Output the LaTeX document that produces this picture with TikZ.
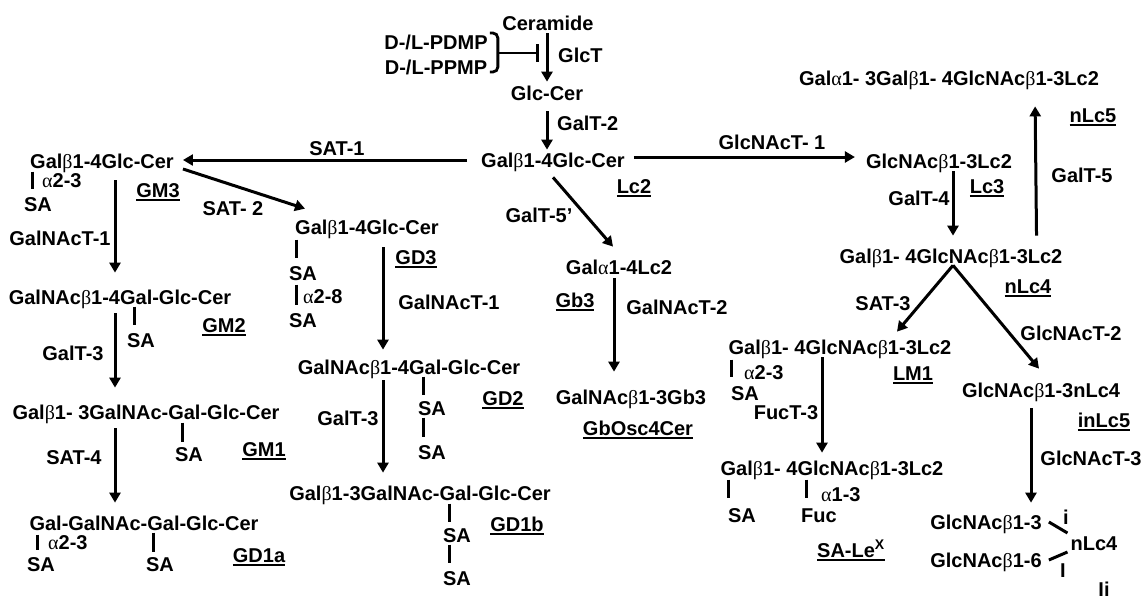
\documentclass[tikz,border=0pt]{standalone}
\usepackage{fontspec}
\setmainfont{Liberation Sans}
\newfontfamily\grk{Liberation Serif}
\usetikzlibrary{arrows.meta,calc}
\newcommand\bet{{\grk\mdseries β}}
\newcommand\alp{{\grk\mdseries α}}
\newcommand\myul[1]{\setbox0\hbox{#1}\rlap{\rule[-3.5pt]{\wd0}{1.6pt}}\box0}
\begin{document}
\begin{tikzpicture}[x=1pt,y=-1pt,
  t/.style={inner sep=0pt,text height=14.3pt,text depth=0pt,font=\fontsize{20}{24}\selectfont\bfseries},
  arr/.style={line width=3pt,-{Triangle[length=10pt,width=11pt]}},
  bond/.style={line width=3pt}]
\useasboundingbox (0,0) rectangle (1143,600);
% top
\node[t] (cer) at (548,23) {Ceramide};
\node[t] (pdmp) at (436,42) {D-/L-PDMP};
\node[t] (ppmp) at (436,67) {D-/L-PPMP};
\node[t,anchor=west] (glct) at (558,55) {GlcT};
\node[t] (glc) at (547,93) {Glc-Cer};
\node[t,anchor=west] (galt2) at (557,123) {GalT-2};
\node[t] (lc2) at (553,160) {Gal\bet1-4Glc-Cer};
\node[t] (lc2l) at (634,186) {\myul{Lc2}};
\draw[arr] ($(cer.south)+(-1,3)$) -- ($(glc.north)+(0,-4)$);
\draw[arr] ($(glc.south)+(0,11)$) -- ($(lc2.north)+(-6,-3)$);
\draw[line width=2.8pt,rounded corners=5pt] ($(pdmp.east)+(2,-9)$) coordinate (bt) -- ++(8,0) -- ++(0,39) -- ++(-8,0);
\coordinate (inh) at ($(glct.west)+(-19,-2)$);
\draw[line width=2.8pt,-{Bar[width=18pt]}] ($(bt)+(8,20)$) -- (inh);
% SAT-1 / GM3
\node[t] (sat1) at (337,148) {SAT-1};
\node[t] (gm3) at (102,161) {Gal\bet1-4Glc-Cer};
\node[t,anchor=west] (gm3a) at (42,180) {\alp2-3};
\node[t] (gm3sa) at (38,204) {SA};
\node[t] (gm3l) at (158,190) {\myul{GM3}};
\draw[arr] ($(lc2.west)+(-14,0)$) -- ($(gm3.east)+(9,-1)$);
\draw[bond] ($(gm3sa.north)+(-6,-25)$) -- ($(gm3sa.north)+(-6,-8)$);
\node[t] (sat2) at (233,208) {SAT- 2};
\node[t] (gnt1a) at (60,238) {GalNAcT-1};
% GD3
\node[t] (gd3) at (367,227) {Gal\bet1-4Glc-Cer};
\node[t] (gd3sa1) at (303,273) {SA};
\node[t,anchor=west] (gd3a) at (303,296) {\alp2-8};
\node[t] (gd3sa2) at (303,320) {SA};
\node[t] (gd3l) at (416,257) {\myul{GD3}};
\draw[arr] ($(gm3.east)+(9,8)$) -- ($(gd3.north west)+(10,-11)$);
\draw[bond] ($(gd3sa1.north)+(-7,-26)$) -- ($(gd3sa1.north)+(-7,-8)$);
\draw[bond] ($(gd3sa2.north)+(-7,-28)$) -- ($(gd3sa2.north)+(-7,-8)$);
\node[t] (gnt1b) at (449,302) {GalNAcT-1};
\node[t] (galt5p) at (539,215) {GalT-5'};
% GM2, GM1, GD1a
\node[t] (gm2) at (120,297) {GalNAc\bet1-4Gal-Glc-Cer};
\node[t] (gm2sa) at (141,340) {SA};
\node[t] (gm2l) at (224,325) {\myul{GM2}};
\draw[bond] ($(gm2sa.north)+(-7,-26)$) -- ($(gm2sa.north)+(-7,-8)$);
\draw[arr] ($(gm3.south)+(13,12)$) -- ($(gm2.north)+(-5,-17)$);
\node[t] (galt3a) at (73,353) {GalT-3};
\node[t] (gm1) at (146,412) {Gal\bet1- 3GalNAc-Gal-Glc-Cer};
\node[t] (gm1sa) at (189,454) {SA};
\node[t] (gm1l) at (264,449) {\myul{GM1}};
\draw[bond] ($(gm1sa.north)+(-7,-24)$) -- ($(gm1sa.north)+(-7,-5)$);
\draw[arr] ($(gm2.south)+(-5,9)$) -- ($(gm1.north)+(-31,-17)$);
\node[t] (sat4) at (74,457) {SAT-4};
\node[t] (gd1a) at (144,523) {Gal-GalNAc-Gal-Glc-Cer};
\node[t,anchor=west] (gd1aa) at (48,542) {\alp2-3};
\node[t] (gd1asa1) at (41,564) {SA};
\node[t] (gd1asa2) at (160,564) {SA};
\node[t] (gd1al) at (259,555) {\myul{GD1a}};
\draw[bond] ($(gd1asa1.north)+(-4,-22)$) -- ($(gd1asa1.north)+(-4,-7)$);
\draw[bond] ($(gd1asa2.north)+(-7,-24)$) -- ($(gd1asa2.north)+(-7,-5)$);
\draw[arr] ($(gm1.south)+(-31,9)$) -- ($(gd1a.north)+(-29,-13)$);
% GD2, GD1b
\node[t] (gd2) at (409,367) {GalNAc\bet1-4Gal-Glc-Cer};
\node[t] (gd2sa1) at (432,408) {SA};
\node[t] (gd2sa2) at (432,452) {SA};
\node[t] (gd2l) at (503,398) {\myul{GD2}};
\draw[bond] ($(gd2sa1.north)+(-9,-24)$) -- ($(gd2sa1.north)+(-9,-6)$);
\draw[bond] ($(gd2sa2.north)+(-9,-27)$) -- ($(gd2sa2.north)+(-9,-8)$);
\draw[arr] ($(gd3.south)+(16,13)$) -- ($(gd2.north)+(-26,-10)$);
\node[t] (galt3b) at (348,418) {GalT-3};
\node[t] (gd1b) at (420,493) {Gal\bet1-3GalNAc-Gal-Glc-Cer};
\node[t] (gd1bsa1) at (457,535) {SA};
\node[t] (gd1bsa2) at (457,578) {SA};
\node[t] (gd1bl) at (517,524) {\myul{GD1b}};
\draw[bond] ($(gd1bsa1.north)+(-8,-24)$) -- ($(gd1bsa1.north)+(-8,-6)$);
\draw[bond] ($(gd1bsa2.north)+(-8,-26)$) -- ($(gd1bsa2.north)+(-8,-8)$);
\draw[arr] ($(gd2.south)+(-26,6)$) -- ($(gd1b.north)+(-37,-13)$);
% Gb3
\node[t] (gb3) at (619,267) {Gal\alp1-4Lc2};
\node[t] (gb3l) at (575,300) {\myul{Gb3}};
\node[t] (gnt2) at (677,307) {GalNAcT-2};
\node[t] (gbo) at (631,397) {GalNAc\bet1-3Gb3};
\node[t] (gbol) at (638,428) {\myul{GbOsc4Cer}};
\draw[arr] ($(lc2.south)+(0,10)$) -- ($(gb3.north)+(-6,-13)$);
\draw[arr] ($(gb3.south)+(-5,4)$) -- ($(gbo.north)+(-17,-18)$);
% Lc series
\node[t] (glcnt1) at (772,142) {GlcNAcT- 1};
\node[t] (lc3) at (939,161) {GlcNAc\bet1-3Lc2};
\node[t] (lc3l) at (987,186) {\myul{Lc3}};
\node[t] (galt4) at (919,198) {GalT-4};
\draw[arr] ($(lc2.east)+(9,-3)$) -- ($(lc3.west)+(-11,-4)$);
\node[t] (nlc5) at (949,78) {Gal\alp1- 3Gal\bet1- 4GlcNAc\bet1-3Lc2};
\node[t] (nlc5l) at (1093,115) {\myul{nLc5}};
\node[t] (galt5) at (1082,175) {GalT-5};
\node[t] (nlc4) at (951,256) {Gal\bet1- 4GlcNAc\bet1-3Lc2};
\node[t] (nlc4l) at (1028,286) {\myul{nLc4}};
\draw[arr] ($(lc3.south)+(14,3)$) -- ($(nlc4.north)+(2,-13)$);
\draw[arr] ($(nlc4.north east)+(-26,-13)$) -- ($(nlc5.south east)+(-64,21)$);
\node[t] (sat3) at (883,303) {SAT-3};
\node[t] (glcnt2) at (1071,333) {GlcNAcT-2};
\node[t] (lm1) at (840,347) {Gal\bet1- 4GlcNAc\bet1-3Lc2};
\node[t,anchor=west] (lm1a) at (744,372) {\alp2-3};
\node[t] (lm1sa) at (745,393) {SA};
\node[t] (lm1l) at (913,373) {\myul{LM1}};
\draw[bond] ($(lm1sa.north)+(-14,-26)$) -- ($(lm1sa.north)+(-14,-9)$);
\node[t] (inlc5) at (1041,390) {GlcNAc\bet1-3nLc4};
\node[t] (inlc5l) at (1104,420) {\myul{inLc5}};
\coordinate (apex) at ($(nlc4.south)+(2,2)$);
\draw[arr] (apex) -- ($(lm1.north)+(57,-8)$);
\draw[arr] (apex) -- ($(inlc5.north)+(-2,-14)$);
\node[t] (fuct3) at (786,412) {FucT-3};
\node[t] (salex) at (832,468) {Gal\bet1- 4GlcNAc\bet1-3Lc2};
\node[t] (salexsa) at (742,515) {SA};
\node[t,anchor=west] (salexa) at (821,494) {\alp1-3};
\node[t] (fuc) at (819,515) {Fuc};
\node[t] (salexl) at (851,550) {\myul{SA-Le\textsuperscript{X}}};
\draw[bond] ($(salexsa.north)+(-14,-28)$) -- ($(salexsa.north)+(-14,-10)$);
\draw[bond] ($(fuc.north)+(-13,-28)$) -- ($(fuc.north)+(-13,-10)$);
\draw[arr] ($(lm1.south)+(-18,3)$) -- ($(salex.north)+(-10,-8)$);
% Ii
\node[t] (glcnt3) at (1091,458) {GlcNAcT-3};
\node[t] (g3) at (986,522) {GlcNAc\bet1-3};
\node[t] (g6) at (986,560) {GlcNAc\bet1-6};
\node[t] (nlc4b) at (1094,543) {nLc4};
\node[t] (ismall) at (1066,517) {i};
\node[t] (ibig) at (1063,570) {I};
\node[t] (ii) at (1104,589) {Ii};
\draw[arr] ($(inlc5.south)+(-10,11)$) -- ($(g3.north)+(45,-12)$);
\draw[bond] ($(g3.east)+(7,0)$) -- ($(nlc4b.west)+(-3,-10)$);
\draw[bond] ($(g6.east)+(7,0)$) -- ($(nlc4b.west)+(-3,9)$);
\end{tikzpicture}
\end{document}
